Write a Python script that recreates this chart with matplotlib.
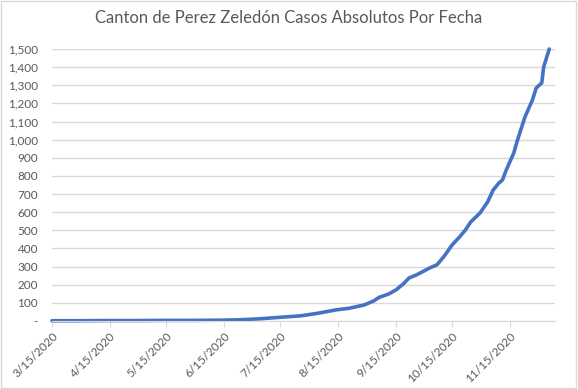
import pandas as pd
import matplotlib.pyplot as plt
from matplotlib.ticker import FuncFormatter

plt.rcParams['font.family'] = ['Lato', 'DejaVu Sans']

# Casos acumulados
fechas = ['2020-03-15', '2020-03-29', '2020-04-14', '2020-04-29', '2020-05-14',
          '2020-05-29', '2020-06-13', '2020-06-23', '2020-06-29', '2020-07-06',
          '2020-07-15', '2020-07-26', '2020-08-04', '2020-08-14', '2020-08-21',
          '2020-08-29', '2020-09-03', '2020-09-06', '2020-09-11', '2020-09-15',
          '2020-09-19', '2020-09-22', '2020-09-26', '2020-10-03', '2020-10-07',
          '2020-10-11', '2020-10-15', '2020-10-19', '2020-10-22', '2020-10-25',
          '2020-10-30', '2020-11-03', '2020-11-06', '2020-11-09', '2020-11-11',
          '2020-11-13', '2020-11-17', '2020-11-19', '2020-11-23', '2020-11-27',
          '2020-11-29', '2020-12-02', '2020-12-03', '2020-12-06']
casos = [1, 1, 2, 2, 3,
         3, 4, 6, 9, 13,
         20, 28, 42, 61, 70,
         88, 110, 130, 148, 171,
         205, 237, 254, 292, 310,
         360, 419, 463, 500, 546,
         596, 656, 722, 760, 778,
         833, 926, 998, 1125, 1219,
         1285, 1313, 1401, 1500]
ticks = ['2020-03-15', '2020-04-15', '2020-05-15', '2020-06-15', '2020-07-15',
         '2020-08-15', '2020-09-15', '2020-10-15', '2020-11-15']

df = pd.DataFrame({'fecha': pd.to_datetime(fechas), 'casos': casos})
tick_fechas = pd.to_datetime(ticks)

gris = '#595959'
fig = plt.figure(figsize=(5.78, 3.89), dpi=100)
fig.patches.append(plt.Rectangle((0.002, 0.003), 0.995, 0.994, transform=fig.transFigure,
                                 fill=False, edgecolor='#d9d9d9', lw=1))
ax = fig.add_axes([0.09, 0.175, 0.87, 0.699])

ax.plot(df['fecha'], df['casos'], color='#4472C4', lw=2.6, solid_capstyle='round', clip_on=False)

ax.set_ylim(0, 1500)
ax.set_yticks(range(0, 1501, 100))
ax.yaxis.set_major_formatter(FuncFormatter(lambda v, p: '-' if v == 0 else f'{int(v):,}'))
ax.set_xlim(pd.Timestamp('2020-03-15'), pd.Timestamp('2020-12-09'))
ax.set_xticks(tick_fechas)
ax.set_xticklabels([f'{d.month}/{d.day}/{d.year}' for d in tick_fechas], rotation=45,
                   ha='right', rotation_mode='anchor')

ax.grid(axis='y', color='#d9d9d9', lw=1)
ax.set_axisbelow(True)
for s in ['top', 'right', 'left']:
    ax.spines[s].set_visible(False)
ax.spines['bottom'].set_color('#d9d9d9')
ax.tick_params(axis='y', length=0, labelsize=8.5, labelcolor=gris, pad=10)
ax.tick_params(axis='x', length=4, color='#d9d9d9', labelsize=8.5, labelcolor=gris, pad=3)

fig.suptitle('Canton de Perez Zeledón Casos Absolutos Por Fecha', y=0.975, fontsize=12, color=gris)

plt.savefig('out.png', dpi=100)
